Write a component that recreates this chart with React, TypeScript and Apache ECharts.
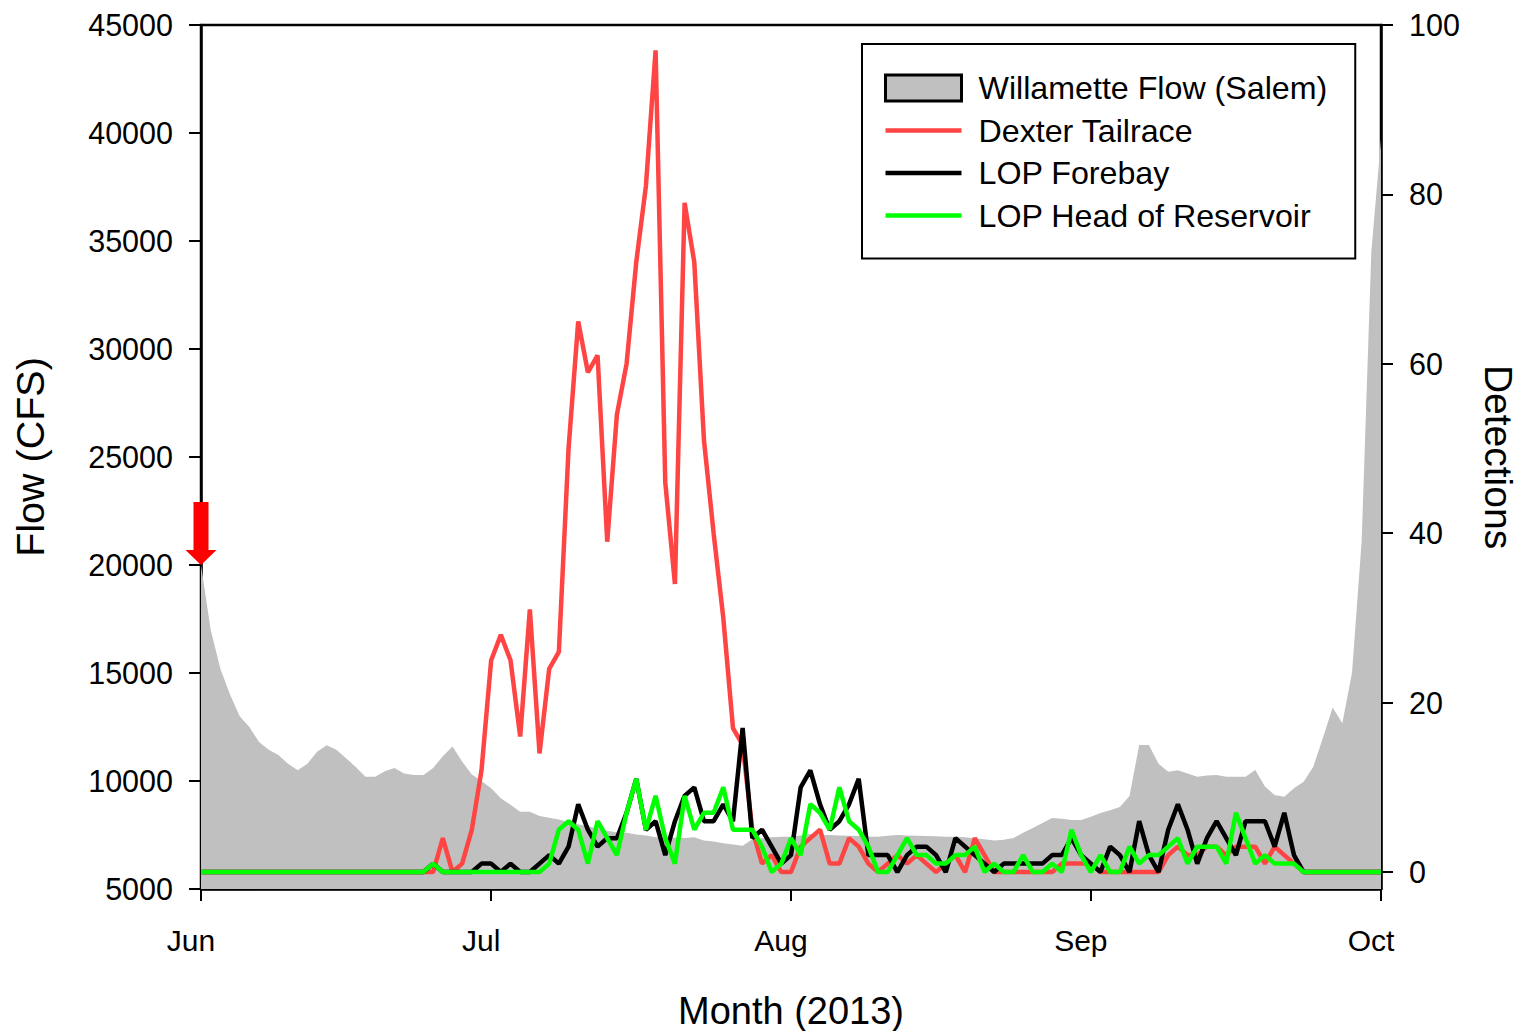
import React, { useEffect, useRef } from "react";
import * as echarts from "echarts";

// Day index 0 = Jun 1, 2013 ... 122 = Oct 1, 2013
const monthTickDays = [0, 30, 61, 92, 122];
const monthLabels = ["Jun", "Jul", "Aug", "Sep", "Oct"];
const flowTicks = [5000, 10000, 15000, 20000, 25000, 30000, 35000, 40000, 45000];
const detectionTicks = [0, 20, 40, 60, 80, 100];

const willametteFlow = [
  20000, 17000, 15200, 14000, 13000, 12500, 11800, 11450, 11200, 10800,
  10500, 10800, 11350, 11650, 11450, 11050, 10650, 10200, 10200, 10450,
  10600, 10350, 10280, 10280, 10600, 11150, 11600, 10900, 10300, 10000,
  9660, 9200, 8900, 8580, 8580, 8380, 8300, 8220, 8100, 8000,
  7900, 7800, 7700, 7620, 7600, 7520, 7480, 7400, 7380, 7370,
  7360, 7400, 7250, 7200, 7120, 7060, 7000, 7300, 7350, 7400,
  7420, 7420, 7480, 7550, 7500, 7500, 7480, 7460, 7450, 7420,
  7420, 7460, 7500, 7480, 7460, 7450, 7440, 7420, 7420, 7400,
  7350, 7300, 7250, 7280, 7360, 7600, 7820, 8050, 8290, 8250,
  8200, 8200, 8350, 8520, 8650, 8800, 9300, 11670, 11670, 10800,
  10430, 10500, 10350, 10200, 10250, 10280, 10200, 10200, 10200, 10510,
  9740, 9350, 9270, 9660, 9970, 10660, 12000, 13400, 12670, 15000,
  21100, 34500, 39700,
];

const dexterTailrace = [
  0, 0, 0, 0, 0, 0, 0, 0, 0, 0,
  0, 0, 0, 0, 0, 0, 0, 0, 0, 0,
  0, 0, 0, 0, 0, 4, 0, 1, 5, 12,
  25, 28, 25, 16, 31, 14, 24, 26, 50, 65,
  59, 61, 39, 54, 60, 72, 81, 97, 46, 34,
  79, 72, 51, 40, 30, 17, 15, 5, 1, 2,
  0, 0, 3, 4, 5, 1, 1, 4, 3, 1,
  0, 1, 2, 1, 2, 1, 0, 1, 2, 0,
  4, 2, 0, 0, 0, 0, 0, 0, 0, 1,
  1, 1, 1, 0, 0, 0, 0, 0, 0, 0,
  2, 3, 2, 2, 3, 3, 2, 3, 3, 3,
  1, 3, 2, 1, 0, 0, 0, 0, 0, 0,
  0, 0, 0,
];

const lopForebay = [
  0, 0, 0, 0, 0, 0, 0, 0, 0, 0,
  0, 0, 0, 0, 0, 0, 0, 0, 0, 0,
  0, 0, 0, 0, 1, 0, 0, 0, 0, 1,
  1, 0, 1, 0, 0, 1, 2, 1, 3, 8,
  5, 3, 4, 4, 7, 11, 5, 6, 2, 6,
  9, 10, 6, 6, 8, 6, 17, 4, 5, 3,
  1, 2, 10, 12, 8, 5, 6, 8, 11, 2,
  2, 2, 0, 2, 3, 3, 2, 0, 4, 3,
  2, 1, 0, 1, 1, 1, 1, 1, 2, 2,
  4, 2, 1, 0, 3, 2, 0, 6, 2, 0,
  5, 8, 5, 1, 4, 6, 4, 2, 6, 6,
  6, 3, 7, 2, 0, 0, 0, 0, 0, 0,
  0, 0, 0,
];

const lopHeadOfReservoir = [
  0, 0, 0, 0, 0, 0, 0, 0, 0, 0,
  0, 0, 0, 0, 0, 0, 0, 0, 0, 0,
  0, 0, 0, 0, 1, 0, 0, 0, 0, 0,
  0, 0, 0, 0, 0, 0, 1, 5, 6, 5,
  1, 6, 4, 2, 7, 11, 5, 9, 4, 1,
  9, 5, 7, 7, 10, 5, 5, 5, 3, 0,
  1, 4, 2, 8, 7, 5, 10, 6, 5, 3,
  0, 0, 2, 4, 2, 2, 1, 1, 2, 2,
  3, 0, 1, 0, 0, 2, 0, 0, 1, 0,
  5, 2, 0, 2, 0, 0, 3, 1, 2, 2,
  3, 4, 1, 3, 3, 3, 1, 7, 4, 1,
  2, 1, 1, 1, 0, 0, 0, 0, 0, 0,
  0, 0, 0,
];

const FONT = "'Liberation Sans', Arial, Helvetica, sans-serif";
const toPairs = (arr: number[]) => arr.map((v, i) => [i, v]);

export default function App() {
  const ref = useRef<HTMLDivElement>(null);

  useEffect(() => {
    document.body.style.margin = "0";
    if (!ref.current) return;
    const chart = echarts.init(ref.current, undefined, { renderer: "svg" });

    const axisLineStyle = { color: "#000", width: 2.5 };
    const tickStyle = { color: "#000", width: 2 };

    chart.setOption({
      animation: false,
      backgroundColor: "#fff",
      textStyle: { fontFamily: FONT, color: "#000" },
      grid: {
        left: 201,
        right: 139,
        top: 25,
        bottom: 142,
        show: true,
        borderColor: "#000",
        borderWidth: 2.5,
        backgroundColor: "transparent",
        containLabel: false,
        outerBoundsMode: "none",
      },
      legend: {
        orient: "vertical",
        left: 862,
        top: 44,
        padding: [28, 28, 27, 22],
        borderColor: "#000",
        borderWidth: 2,
        backgroundColor: "#fff",
        itemWidth: 76,
        itemHeight: 26,
        itemGap: 10.5,
        symbolKeepAspect: true,
        textStyle: {
          fontFamily: FONT,
          fontSize: 32.2,
          color: "#000",
          lineHeight: 32,
          padding: [0, 0, 0, 12],
        },
        data: [
          {
            name: "Willamette Flow (Salem)",
            icon: "rect",
            itemStyle: { color: "#c0c0c0", borderColor: "#000", borderWidth: 3 },
          },
          { name: "Dexter Tailrace", icon: "path://M0,0H76V4.5H0Z", itemStyle: { color: "#ff4444", borderWidth: 0 } },
          { name: "LOP Forebay", icon: "path://M0,0H76V4.5H0Z", itemStyle: { color: "#000000", borderWidth: 0 } },
          { name: "LOP Head of Reservoir", icon: "path://M0,0H76V4.5H0Z", itemStyle: { color: "#00ff00", borderWidth: 0 } },
        ],
      },
      xAxis: {
        type: "value",
        min: 0,
        max: 122,
        name: "Month (2013)",
        nameLocation: "middle",
        nameGap: 103,
        nameTextStyle: { fontFamily: FONT, fontSize: 38, color: "#000" },
        axisLine: { show: true, onZero: false, lineStyle: axisLineStyle },
        axisTick: { show: true, inside: false, length: 12, lineStyle: tickStyle, customValues: monthTickDays },
        splitLine: { show: false },
        axisLabel: {
          show: true,
          customValues: monthTickDays,
          fontFamily: FONT,
          fontSize: 30,
          color: "#000",
          margin: 36,
          padding: [0, 20, 0, 0],
          formatter: (v: number) => {
            const k = monthTickDays.indexOf(Math.round(v));
            return k >= 0 ? monthLabels[k] : "";
          },
        },
      },
      yAxis: [
        {
          type: "value",
          min: flowTicks[0],
          max: flowTicks[flowTicks.length - 1],
          interval: 5000,
          position: "left",
          name: "Flow (CFS)",
          nameLocation: "middle",
          nameGap: 151,
          nameRotate: 90,
          nameTextStyle: { fontFamily: FONT, fontSize: 39.5, color: "#000" },
          axisLine: { show: true, lineStyle: axisLineStyle },
          axisTick: { show: true, inside: false, length: 12, lineStyle: tickStyle },
          splitLine: { show: false },
          axisLabel: {
            fontFamily: FONT,
            fontSize: 30.5,
            color: "#000",
            margin: 28,
            formatter: (v: number) => String(v),
          },
        },
        {
          type: "value",
          min: -2,
          max: 100,
          position: "right",
          name: "Detections",
          nameLocation: "middle",
          nameGap: 98,
          nameRotate: -90,
          nameTextStyle: { fontFamily: FONT, fontSize: 39, lineHeight: 38, color: "#000" },
          axisLine: { show: true, lineStyle: axisLineStyle },
          axisTick: { show: true, inside: false, length: 12, lineStyle: tickStyle, customValues: detectionTicks },
          splitLine: { show: false },
          axisLabel: {
            customValues: detectionTicks,
            fontFamily: FONT,
            fontSize: 30.5,
            color: "#000",
            margin: 28,
            formatter: (v: number) => String(v),
          },
        },
      ],
      series: [
        {
          name: "Willamette Flow (Salem)",
          type: "line",
          yAxisIndex: 0,
          data: toPairs(willametteFlow),
          showSymbol: false,
          symbol: "none",
          color: "#c0c0c0",
          lineStyle: { width: 0, color: "#c0c0c0" },
          areaStyle: { color: "#c0c0c0", opacity: 1, origin: "start" },
          z: 1,
          markPoint: {
            symbol: "path://M8,0L23,0L23,48L31,48L15.5,63L0,48L8,48Z",
            symbolSize: [31, 63],
            symbolOffset: [0, "-50%"],
            itemStyle: { color: "#ff0000" },
            label: { show: false },
            data: [{ coord: [0, willametteFlow[0]] }],
          },
        },
        {
          name: "Dexter Tailrace",
          type: "line",
          yAxisIndex: 1,
          data: toPairs(dexterTailrace),
          showSymbol: false,
          symbol: "none",
          color: "#ff4444",
          lineStyle: { width: 4.5, color: "#ff4444" },
          z: 2,
        },
        {
          name: "LOP Forebay",
          type: "line",
          yAxisIndex: 1,
          data: toPairs(lopForebay),
          showSymbol: false,
          symbol: "none",
          color: "#000000",
          lineStyle: { width: 4.5, color: "#000000" },
          z: 3,
        },
        {
          name: "LOP Head of Reservoir",
          type: "line",
          yAxisIndex: 1,
          data: toPairs(lopHeadOfReservoir),
          showSymbol: false,
          symbol: "none",
          color: "#00ff00",
          lineStyle: { width: 4.5, color: "#00ff00" },
          z: 4,
        },
      ],
    });

    return () => chart.dispose();
  }, []);

  return <div ref={ref} style={{ width: 1520, height: 1031 }} />;
}
